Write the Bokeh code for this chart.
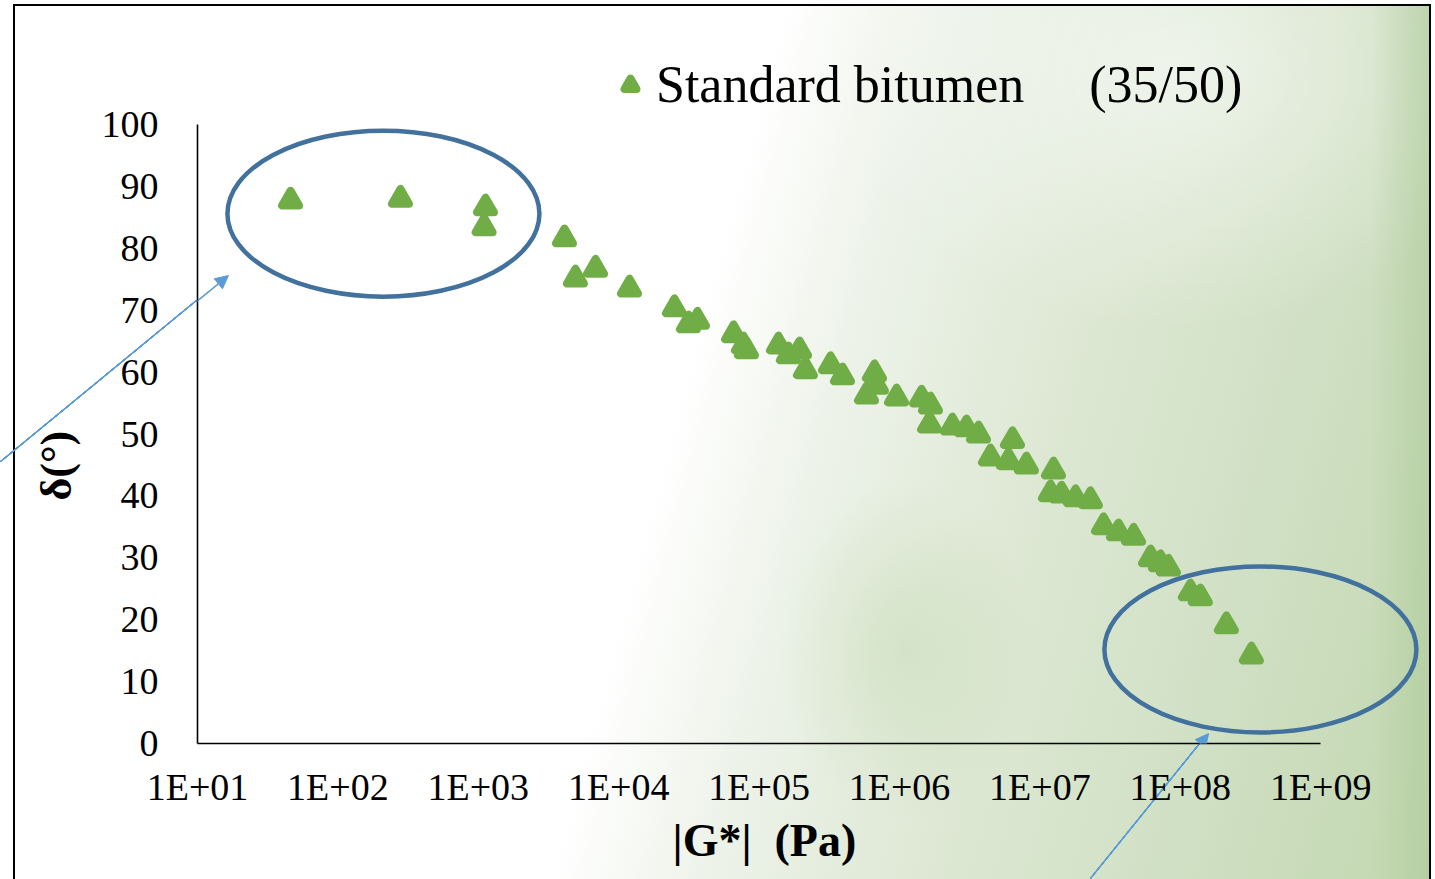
from bokeh.plotting import figure
from bokeh.models import (Range1d, FixedTicker, CustomJSTickFormatter, Arrow, NormalHead,
                          Legend, LegendItem, LogAxis, LogScale, Title)
from bokeh.embed import file_html
from bokeh.resources import INLINE

# ---------------- data ----------------
g_star_pa = [46, 279, 1125, 1100, 4110, 4920, 6840, 11940, 24950, 31400, 36400,
             65800, 77400, 81300, 137400, 161800, 194100, 213800, 322800, 392600,
             582100, 663700, 685500, 952800, 1.435e6, 1.663e6, 1.637e6, 2.382e6,
             3.0e6, 3.656e6, 4.446e6, 6.38e6, 5.97e6, 8.02e6, 1.25e7, 1.19e7,
             1.426e7, 1.795e7, 2.29e7, 2.84e7, 3.63e7, 4.65e7, 6.14e7, 7.23e7,
             8.24e7, 1.18e8, 1.39e8, 2.13e8, 3.21e8]
delta_deg = [87.7, 88.0, 86.6, 83.4, 81.6, 75.1, 76.7, 73.5, 70.3, 67.7, 68.3,
             66.1, 64.3, 63.5, 64.3, 62.7, 63.5, 60.3, 61.1, 59.3,
             56.2, 59.8, 57.8, 55.9, 55.7, 54.6, 51.5, 51.2,
             50.9, 49.9, 46.2, 49.0, 45.6, 44.9, 44.1, 40.4,
             40.2, 39.6, 39.3, 35.1, 34.1, 33.4, 29.9, 29.1,
             28.4, 24.4, 23.6, 19.1, 14.2]
x_ticks = [1e1, 1e2, 1e3, 1e4, 1e5, 1e6, 1e7, 1e8, 1e9]
y_ticks = [0, 10, 20, 30, 40, 50, 60, 70, 80, 90, 100]
series_label = "Standard bitumen" + "\u00a0" * 5 + "(35/50)"
x_title = "|G*|\u00a0\u00a0(Pa)"
y_title = "\u03b4(\u00b0)"

# highlighted regions (ellipse centres) and arrows (start -> tip), data coordinates
ellipse_x = [211, 3.72e8]
ellipse_y = [85.6, 15.2]
arrows = [((0.395, 45.4), (16.6, 75.6)), ((2.29e7, -22.0), (1.59e8, 1.6))]

GREEN = "#70AD47"
BLUE = "#41719C"
ARROW = "#5B9BD5"
SERIF = "Liberation Serif"


def css_line(left, top, w, h):
    # diagonal from bottom-left to top-right of the given box
    return ("linear-gradient(to top left, rgba(91,155,213,0) calc(50% - 1.1px), "
            f"{ARROW} calc(50% - 0.7px), {ARROW} calc(50% + 0.7px), "
            "rgba(91,155,213,0) calc(50% + 1.1px)) "
            f"{left}px {top}px / {w}px {h}px no-repeat")


bg = ", ".join([
    css_line(0, 300, 197, 162),          # part of arrow 1 outside the plot frame
    css_line(1090, 743, 110, 136),       # part of arrow 2 outside the plot frame
    "linear-gradient(#000,#000) 13px 4px / 2px 900px no-repeat",
    "linear-gradient(#000,#000) 13px 4px / 1418px 2px no-repeat",
    "linear-gradient(#000,#000) 1429px 4px / 2px 900px no-repeat",
    "linear-gradient(#fff,#fff) 0 0 / 13px 100% no-repeat",
    "linear-gradient(#fff,#fff) 0 0 / 100% 4px no-repeat",
    "linear-gradient(#fff,#fff) 1431px 0 / 4px 100% no-repeat",
    "linear-gradient(to left, rgba(170,200,150,0.55), rgba(170,200,150,0)) 1371px 0 / 60px 100% no-repeat",
    "radial-gradient(ellipse 340px 260px at 1180px 70px, rgba(255,255,255,0.55), rgba(255,255,255,0))",
    "radial-gradient(ellipse 130px 170px at 905px 650px, rgba(196,218,180,0.5), rgba(196,218,180,0))",
    "linear-gradient(105deg, #ffffff 0%, #ffffff 47%, #eef3ea 56%, #dfe9d6 68%, #d0e0c4 84%, #c2d7b0 100%)",
])

p = figure(width=1435, height=879, output_backend="svg", toolbar_location=None,
           x_axis_type=None,
           x_range=Range1d(10, 10 ** (1 + (1435 - 197) / 140.4)),
           y_range=Range1d(0, 743 / 6.19),
           min_border_left=197, min_border_right=0, min_border_top=0, min_border_bottom=136,
           border_fill_color=None, background_fill_color=None, outline_line_color=None)
p.x_scale = LogScale()
p.styles = {"background": bg}
p.xgrid.visible = False
p.ygrid.visible = False

xaxis = LogAxis(ticker=FixedTicker(ticks=x_ticks, minor_ticks=[]),
                formatter=CustomJSTickFormatter(code="""
                    const e = Math.round(Math.log10(tick));
                    return "1E+" + String(e).padStart(2, "0");"""),
                bounds=(1e1, 1e9))
p.add_layout(xaxis, "below")
yaxis = p.yaxis[0]

for ax in (xaxis, yaxis):
    ax.major_tick_out = 0
    ax.major_tick_in = 0
    ax.minor_tick_out = 0
    ax.minor_tick_in = 0
    ax.axis_line_color = "black"
    ax.axis_line_width = 1.6
    ax.major_label_text_font = SERIF
    ax.major_label_text_font_size = "38px"
    ax.major_label_text_color = "black"

yaxis.ticker = FixedTicker(ticks=y_ticks, minor_ticks=[])
yaxis.bounds = (0, 100)
yaxis.major_label_standoff = 39
xaxis.major_label_standoff = 22

# axis titles (offset along the axis to sit under / beside the drawn axis extent)
p.add_layout(Title(text=y_title, align="left", offset=243, standoff=36,
                   text_font=SERIF, text_font_style="bold", text_font_size="44px",
                   text_color="black"), "left")
p.add_layout(Title(text=x_title, align="left", offset=475, standoff=4,
                   text_font=SERIF, text_font_style="bold", text_font_size="46px",
                   text_color="black"), "below")

# highlight ellipses
p.ellipse(x=ellipse_x, y=ellipse_y, width=312, height=166, width_units="screen",
          height_units="screen", fill_color=None, line_color=BLUE, line_width=4.5)

r = p.scatter(x=g_star_pa, y=delta_deg, marker="triangle", size=17,
              fill_color=GREEN, line_color=GREEN, line_width=8, line_join="round")

for (xs, ys), (xe, ye) in arrows:
    p.add_layout(Arrow(end=NormalHead(size=13, fill_color=ARROW, line_color=ARROW, line_width=1),
                       x_start=xs, y_start=ys, x_end=xe, y_end=ye,
                       line_color=ARROW, line_width=1.6))

legend = Legend(items=[LegendItem(label=series_label, renderers=[r])],
                location=(418, 629), padding=0, margin=0, border_line_color=None,
                background_fill_color=None, glyph_width=30, glyph_height=30,
                label_standoff=11, label_text_font=SERIF, label_text_font_size="52px",
                label_text_color="black")
p.add_layout(legend)

open("out.html", "w").write(file_html(p, INLINE))
